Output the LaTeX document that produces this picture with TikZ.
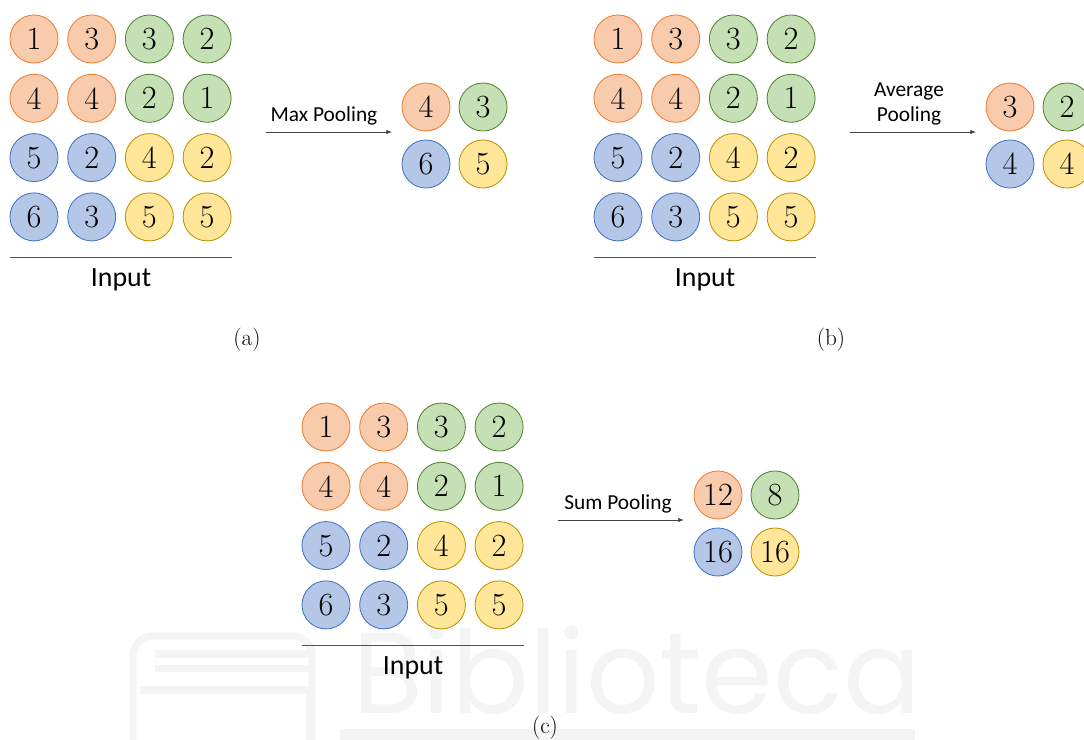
\documentclass[tikz,border=0pt]{standalone}
\usepackage{fontspec}
\newfontfamily\calibri{Carlito}
\newfontfamily\wmfont{Poppins}
\usetikzlibrary{arrows.meta,positioning}
\definecolor{orD}{HTML}{ED7D31}
\definecolor{orF}{HTML}{F8CBAD}
\definecolor{grD}{HTML}{548235}
\definecolor{grF}{HTML}{C5E0B4}
\definecolor{blD}{HTML}{4472C4}
\definecolor{blF}{HTML}{B4C7E7}
\definecolor{yeD}{HTML}{BF9000}
\definecolor{yeF}{HTML}{FFE699}
\definecolor{ink}{HTML}{404040}
\definecolor{wmark}{HTML}{F4F4F4}
\tikzset{
  cell/.style={circle,draw=#1D,fill=#1F,line width=0.6pt,minimum size=1.2cm,
    inner sep=0pt,font=\fontsize{23}{25}\selectfont},
  oplabel/.style={font=\calibri\fontsize{15.2}{18}\selectfont,align=center,
    anchor=south,inner sep=1pt},
  inlabel/.style={font=\calibri\fontsize{19.8}{22}\selectfont,inner sep=0pt},
  sublabel/.style={font=\fontsize{16.5}{20}\selectfont,inner sep=0pt},
  rule/.style={draw=ink!90,line width=0.7pt},
  poolarrow/.style={draw=ink,line width=0.5pt,-{Latex[length=4pt,width=3pt]}}
}

\begin{document}
\begin{tikzpicture}[x=0.025cm,y=-0.025cm]
\useasboundingbox (0,0) rectangle (1084,740);

% ---------- faint watermark behind (c) ----------
\draw[wmark,line width=0.18cm,rounded corners=14] (133,760) -- (133,636) -- (312,636) -- (312,760);
\fill[wmark] (155,650) rectangle (312,658);
\fill[wmark] (155,665) rectangle (312,672);
\draw[wmark,line width=0.18cm] (140,690) -- (310,690) -- (310,760);
\node[wmark,font=\wmfont\fontsize{82}{90}\selectfont,anchor=base west,inner sep=0pt]
  (wm) at (352,713) {Biblioteca};
\fill[wmark] (340,729) rectangle (915,740);

% ---------- (a) max pooling ----------
\begin{scope}
  \foreach \v/\s [count=\i from 0] in {1/or,3/or,3/gr,2/gr,4/or,4/or,2/gr,1/gr,
                                       5/bl,2/bl,4/ye,2/ye,6/bl,3/bl,5/ye,5/ye}{
    \pgfmathtruncatemacro\col{mod(\i,4)}
    \pgfmathtruncatemacro\row{div(\i,4)}
    \node[cell=\s] (a-\row-\col) at (34+57.7*\col,39+59.3*\row) {\v};
  }
  \coordinate (a-rl) at (10,257);
  \coordinate (a-rr) at (232,257);
  \draw[rule] (a-rl) -- (a-rr);
  \node[inlabel] (a-in) at (121,280) {Input};
  \coordinate (a-from) at (266,132);
  \coordinate (a-to) at (392,132);
  \draw[poolarrow] (a-from) -- (a-to);
  \node[oplabel] (a-op) at (324,127) {Max Pooling};
  \node[cell=or] (a-o1) at (426,107) {4};
  \node[cell=gr] (a-o2) at (483,107) {3};
  \node[cell=bl] (a-o3) at (426,164) {6};
  \node[cell=ye] (a-o4) at (483,164) {5};
  \node[sublabel] (a-cap) at (247,340) {(a)};
\end{scope}

% ---------- (b) average pooling ----------
\begin{scope}[shift={(584,0)}]
  \foreach \v/\s [count=\i from 0] in {1/or,3/or,3/gr,2/gr,4/or,4/or,2/gr,1/gr,
                                       5/bl,2/bl,4/ye,2/ye,6/bl,3/bl,5/ye,5/ye}{
    \pgfmathtruncatemacro\col{mod(\i,4)}
    \pgfmathtruncatemacro\row{div(\i,4)}
    \node[cell=\s] (b-\row-\col) at (34+57.7*\col,39+59.3*\row) {\v};
  }
  \coordinate (b-rl) at (10,257);
  \coordinate (b-rr) at (232,257);
  \draw[rule] (b-rl) -- (b-rr);
  \node[inlabel] (b-in) at (121,280) {Input};
  \coordinate (b-from) at (266,132);
  \coordinate (b-to) at (392,132);
  \draw[poolarrow] (b-from) -- (b-to);
  \node[oplabel] (b-op) at (325,127) {Average\\Pooling};
  \node[cell=or] (b-o1) at (426,107) {3};
  \node[cell=gr] (b-o2) at (483,107) {2};
  \node[cell=bl] (b-o3) at (426,164) {4};
  \node[cell=ye] (b-o4) at (483,164) {4};
  \node[sublabel] (b-cap) at (247,340) {(b)};
\end{scope}

% ---------- (c) sum pooling ----------
\begin{scope}[shift={(292,388)}]
  \foreach \v/\s [count=\i from 0] in {1/or,3/or,3/gr,2/gr,4/or,4/or,2/gr,1/gr,
                                       5/bl,2/bl,4/ye,2/ye,6/bl,3/bl,5/ye,5/ye}{
    \pgfmathtruncatemacro\col{mod(\i,4)}
    \pgfmathtruncatemacro\row{div(\i,4)}
    \node[cell=\s] (c-\row-\col) at (34+57.7*\col,39+59.3*\row) {\v};
  }
  \coordinate (c-rl) at (10,257);
  \coordinate (c-rr) at (232,257);
  \draw[rule] (c-rl) -- (c-rr);
  \node[inlabel] (c-in) at (121,280) {Input};
  \coordinate (c-from) at (266,132);
  \coordinate (c-to) at (392,132);
  \draw[poolarrow] (c-from) -- (c-to);
  \node[oplabel] (c-op) at (326,127) {Sum Pooling};
  \node[cell=or] (c-o1) at (426,107) {12};
  \node[cell=gr] (c-o2) at (483,107) {8};
  \node[cell=bl] (c-o3) at (426,164) {16};
  \node[cell=ye] (c-o4) at (483,164) {16};
  \node[sublabel] (c-cap) at (253,340) {(c)};
\end{scope}
\end{tikzpicture}
\end{document}
